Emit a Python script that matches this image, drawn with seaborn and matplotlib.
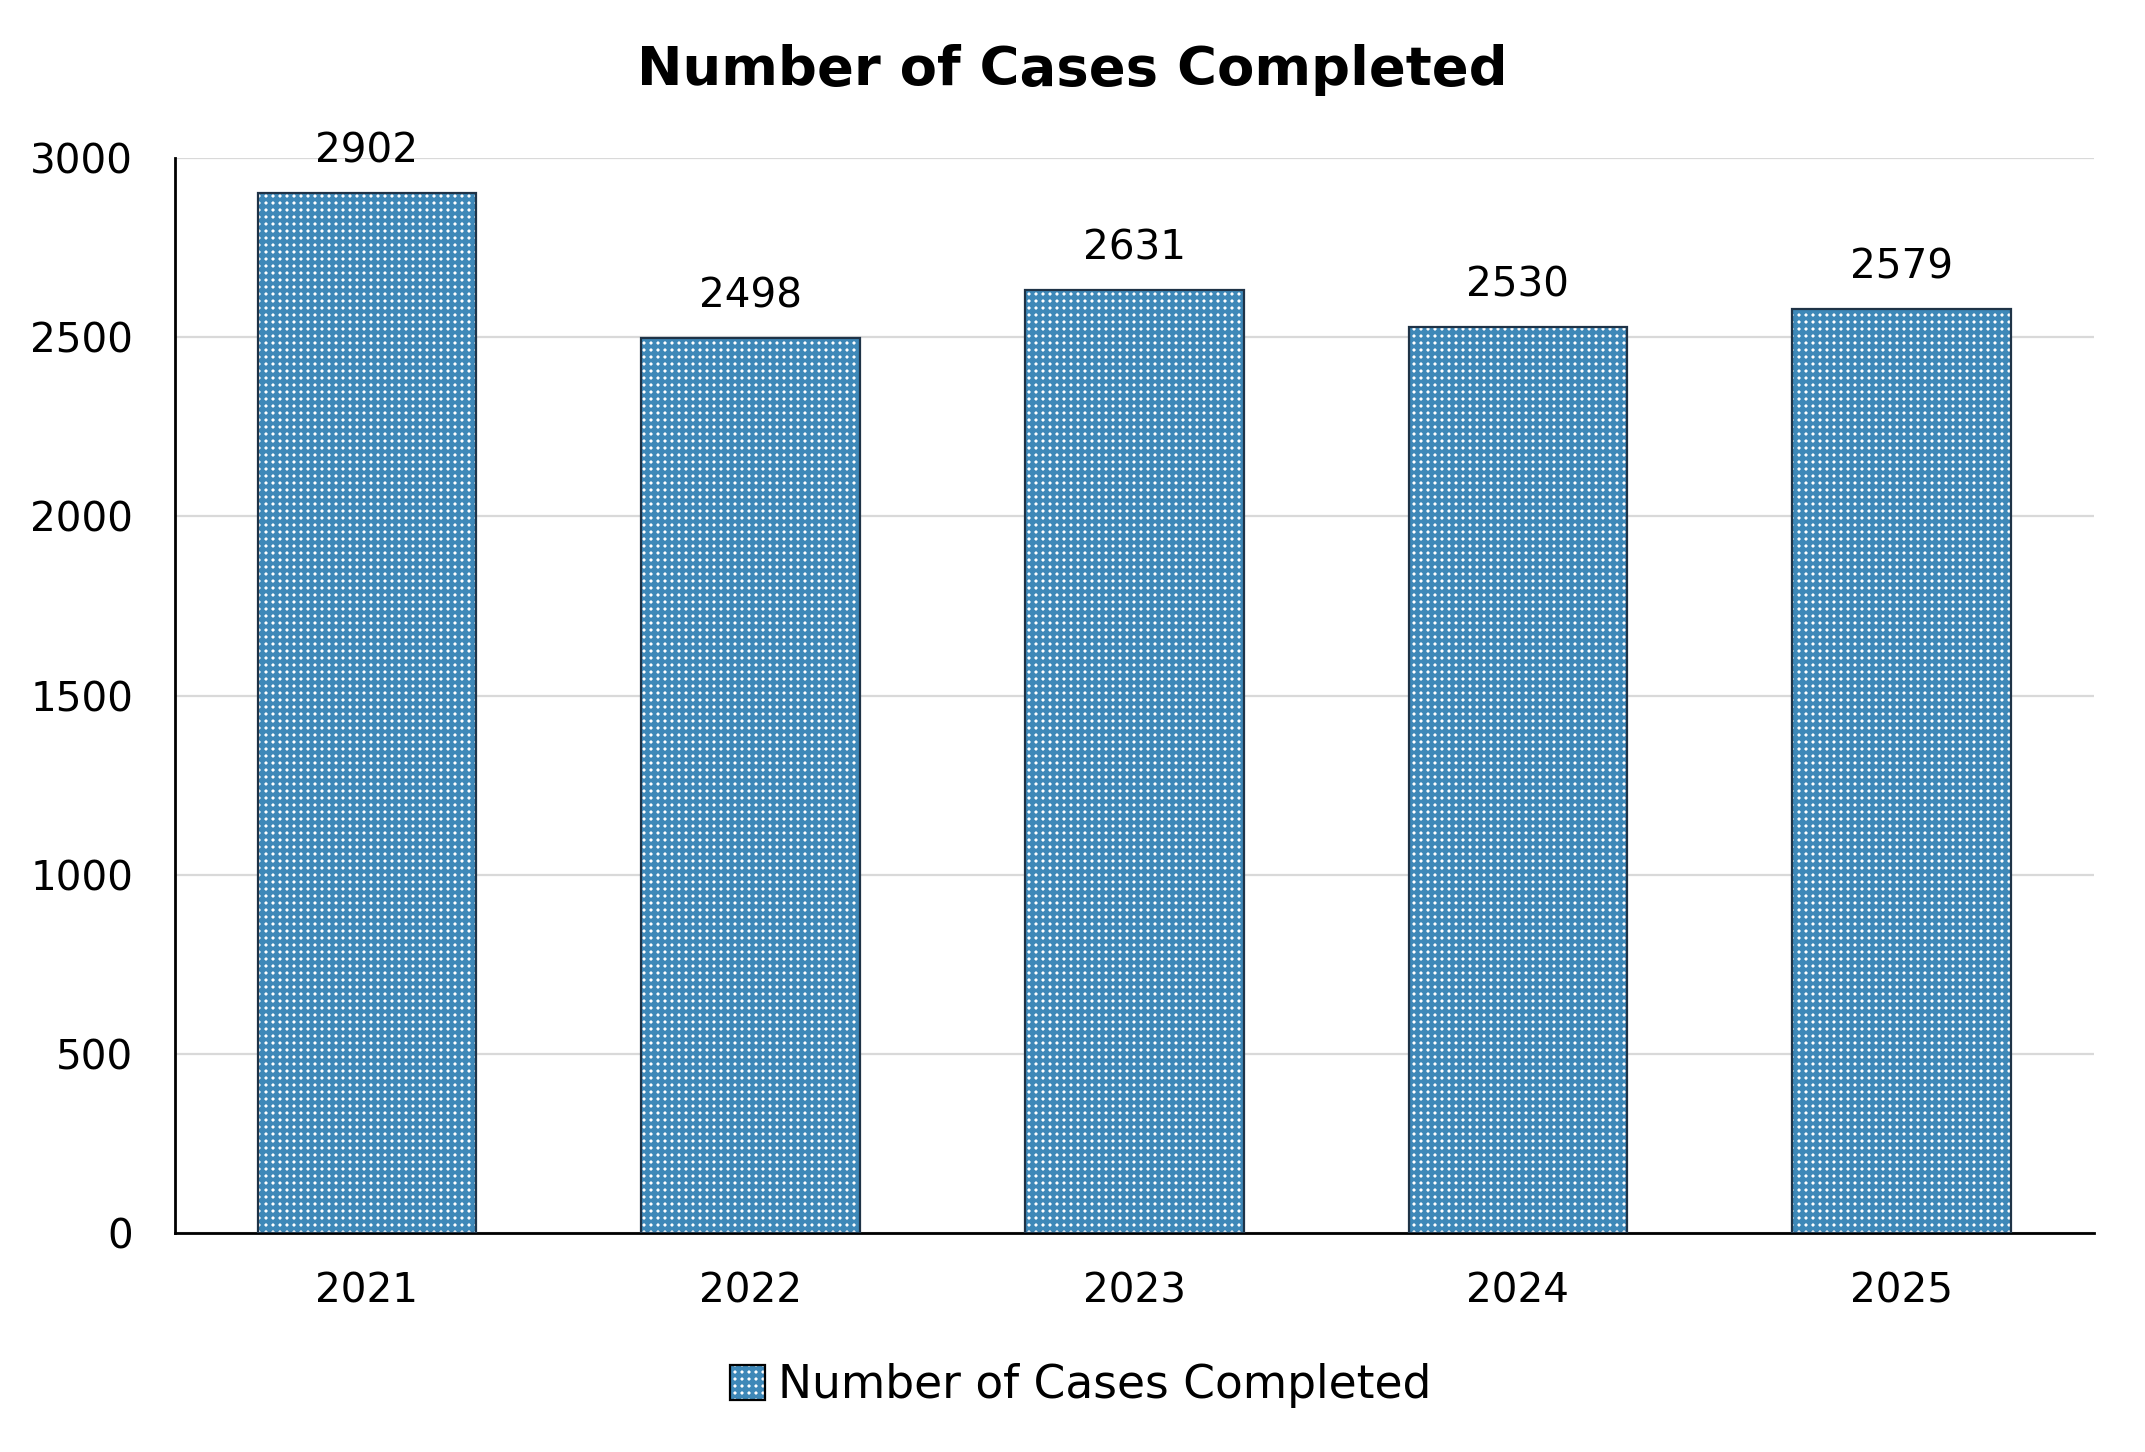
import matplotlib
matplotlib.use("Agg")
import matplotlib.pyplot as plt
import seaborn as sns
import pandas as pd
from matplotlib.patches import Patch

# data
years = ["2021", "2022", "2023", "2024", "2025"]
cases = [2902, 2498, 2631, 2530, 2579]
serie = "Number of Cases Completed"

df = pd.DataFrame({"Year": years, "Cases": cases})

DPI = 210          # 30 hatch lines per inch -> exactly 7 px cells
k = 200 / DPI      # font sizes were tuned at 200 dpi

sns.set_theme(style="white")
plt.rcParams["font.family"] = ["DejaVu Sans"]
plt.rcParams["text.color"] = "black"
plt.rcParams["hatch.linewidth"] = 4 * 72 / DPI   # ~4 px blue lines, 3 px white holes

azul = "#3e88b8"
borda = "#1f3347"

fig, ax = plt.subplots(figsize=(2145 / DPI, 1452 / DPI), dpi=DPI)
fig.subplots_adjust(left=0.0816, right=0.976, top=0.891, bottom=0.151)

# white face + thick blue "+" hatch -> blue grid with white square holes
sns.barplot(data=df, x="Year", y="Cases", ax=ax, color="white", width=0.57,
            saturation=1, linewidth=0, zorder=3)
for p in ax.patches:
    p.set_facecolor("white")
    p.set_edgecolor(azul)
    p.set_hatch("+++++")
    p.set_linewidth(0)
# outline on top
sns.barplot(data=df, x="Year", y="Cases", ax=ax, color="none", width=0.57,
            saturation=1, linewidth=0.8 * k, edgecolor=borda, fill=False, zorder=4)

for i, v in enumerate(cases):
    ax.text(i, v + 60, str(v), ha="center", va="bottom", fontsize=14.6 * k,
            color="black", zorder=5)

ax.set_ylim(0, 3000)
ax.set_xlim(-0.5, 4.5)
ax.set_yticks(range(0, 3001, 500))
ax.yaxis.grid(True, color="#d9d9d9", linewidth=0.8 * k, zorder=0)
ax.set_axisbelow(True)
ax.tick_params(axis="both", length=0, labelsize=14.6 * k, colors="black")
ax.tick_params(axis="x", pad=14 * k)
ax.tick_params(axis="y", pad=15 * k)
ax.set_xlabel("")
ax.set_ylabel("")
for s in ["top", "right"]:
    ax.spines[s].set_visible(False)
for s in ["left", "bottom"]:
    ax.spines[s].set_color("black")
    ax.spines[s].set_linewidth(1.0 * k)

# title is centred on the figure, not on the axes
fig.suptitle("Number of Cases Completed", fontsize=19.6 * k, fontweight="bold",
             color="black", x=0.5, y=0.952, va="center")

h_fill = Patch(facecolor="white", edgecolor=azul, hatch="+++++", linewidth=0)
h_edge = Patch(facecolor="none", edgecolor="black", linewidth=0.8 * k)
leg = fig.legend([(h_fill, h_edge)], [serie], loc="lower center",
                 bbox_to_anchor=(0.504, 0.002), frameon=False, fontsize=16.4 * k,
                 handlelength=0.75, handleheight=0.8, handletextpad=0.3)

fig.savefig("out.png", dpi=DPI)
